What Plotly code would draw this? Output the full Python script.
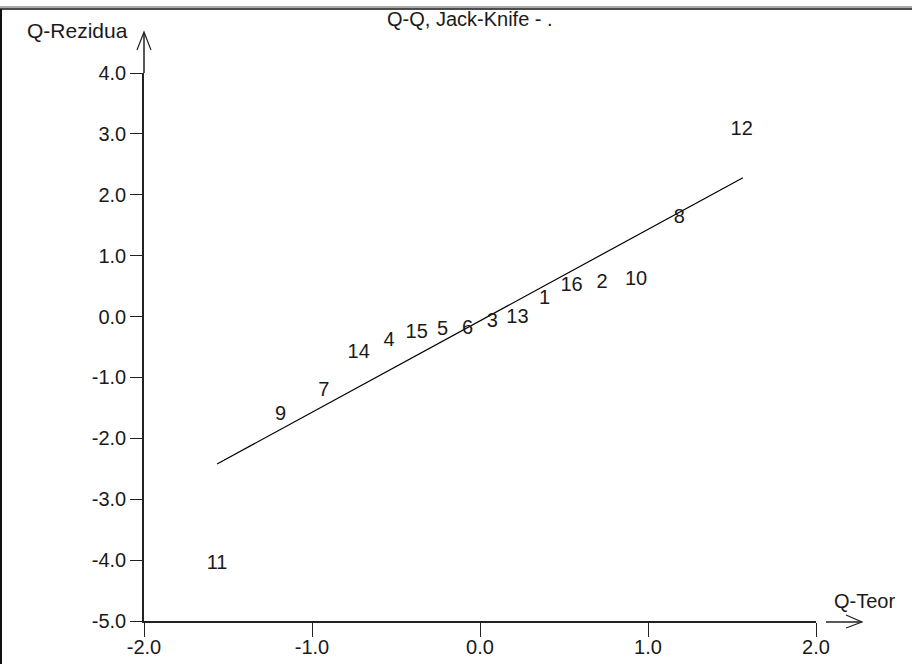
import plotly.graph_objects as go

# Data
point_labels = ["11", "9", "7", "14", "4", "15", "5", "6", "3", "13", "1", "16", "2", "10", "8", "12"]
q_teor = [-1.565, -1.187, -0.929, -0.722, -0.542, -0.377, -0.223, -0.074,
          0.074, 0.223, 0.385, 0.545, 0.726, 0.929, 1.187, 1.558]
q_rezidua = [-4.07, -1.61, -1.23, -0.60, -0.40, -0.27, -0.22, -0.20,
             -0.09, -0.02, 0.29, 0.50, 0.55, 0.60, 1.62, 3.07]
fit_x = [-1.565, 1.565]
fit_y = [-2.42, 2.28]
x_ticks = [-2.0, -1.0, 0.0, 1.0, 2.0]
y_ticks = [-5.0, -4.0, -3.0, -2.0, -1.0, 0.0, 1.0, 2.0, 3.0, 4.0]

W, H = 912, 664
L, R, T, B = 144, 816, 73, 621
FONT = "Liberation Sans, Arial, sans-serif"
INK = "#1a1a1a"


def px(xp):
    return (xp - L) / (R - L)


def py(yp):
    return (B - yp) / (B - T)


fig = go.Figure()
fig.add_trace(go.Scatter(x=fit_x, y=fit_y, mode="lines",
                         line=dict(color="black", width=1.2),
                         hoverinfo="skip", showlegend=False))
fig.add_trace(go.Scatter(x=q_teor, y=q_rezidua, mode="text", text=point_labels,
                         textposition="middle center",
                         textfont=dict(family=FONT, size=20, color=INK),
                         cliponaxis=False, showlegend=False))

shapes = []
line_style = dict(color="#222", width=1.5)
# y-axis extension and arrow head
shapes.append(dict(type="line", xref="paper", yref="paper", x0=0, x1=0,
                   y0=1, y1=py(33), line=line_style))
shapes.append(dict(type="path", xref="paper", yref="paper",
                   path=f"M{px(137)},{py(50)} L{px(144)},{py(32)} L{px(151)},{py(50)}",
                   line=dict(color="#222", width=1.2)))
# x-axis arrow
shapes.append(dict(type="line", xref="paper", yref="paper", x0=px(826), x1=px(862),
                   y0=py(622), y1=py(622), line=line_style))
shapes.append(dict(type="path", xref="paper", yref="paper",
                   path=f"M{px(846)},{py(615)} L{px(862)},{py(622)} L{px(846)},{py(628)}",
                   line=dict(color="#222", width=1.2)))
# frame: top double line and left line
shapes.append(dict(type="line", xref="paper", yref="paper", x0=px(0), x1=px(912),
                   y0=py(7), y1=py(7), line=dict(color="#555", width=1)))
shapes.append(dict(type="line", xref="paper", yref="paper", x0=px(0), x1=px(912),
                   y0=py(9), y1=py(9), line=dict(color="#111", width=1.5)))
shapes.append(dict(type="line", xref="paper", yref="paper", x0=px(1), x1=px(1),
                   y0=py(9), y1=py(664), line=dict(color="#111", width=2)))

annotations = [
    dict(text="Q-Q, Jack-Knife - .", xref="paper", yref="paper", x=px(470), y=py(19),
         showarrow=False, xanchor="center", yanchor="middle",
         font=dict(family=FONT, size=20, color=INK)),
    dict(text="Q-Rezidua", xref="paper", yref="paper", x=px(77), y=py(31),
         showarrow=False, xanchor="center", yanchor="middle",
         font=dict(family=FONT, size=21, color=INK)),
    dict(text="Q-Teor", xref="paper", yref="paper", x=px(864), y=py(601),
         showarrow=False, xanchor="center", yanchor="middle",
         font=dict(family=FONT, size=20, color=INK)),
]

fig.update_layout(
    width=W, height=H,
    margin=dict(l=L, r=W - R, t=T, b=H - B, pad=0, autoexpand=False),
    paper_bgcolor="white", plot_bgcolor="white",
    shapes=shapes, annotations=annotations,
    xaxis=dict(range=[-2, 2], tickvals=x_ticks, ticktext=[f"{v:.1f}" for v in x_ticks],
               showgrid=False, zeroline=False, showline=True, linecolor="#222", linewidth=1.5,
               ticks="outside", ticklen=14, tickwidth=1.2, tickcolor="#222", automargin=False,
               ticklabelstandoff=-7,
               tickfont=dict(family=FONT, size=20, color=INK), fixedrange=True),
    yaxis=dict(range=[-5, 4], tickvals=y_ticks, ticktext=[f"{v:.1f}" for v in y_ticks],
               showgrid=False, zeroline=False, showline=True, linecolor="#222", linewidth=1.5,
               ticks="outside", ticklen=12, tickwidth=1.2, tickcolor="#222", automargin=False,
               tickfont=dict(family=FONT, size=20, color=INK), fixedrange=True),
)

fig.write_html("out.html")
